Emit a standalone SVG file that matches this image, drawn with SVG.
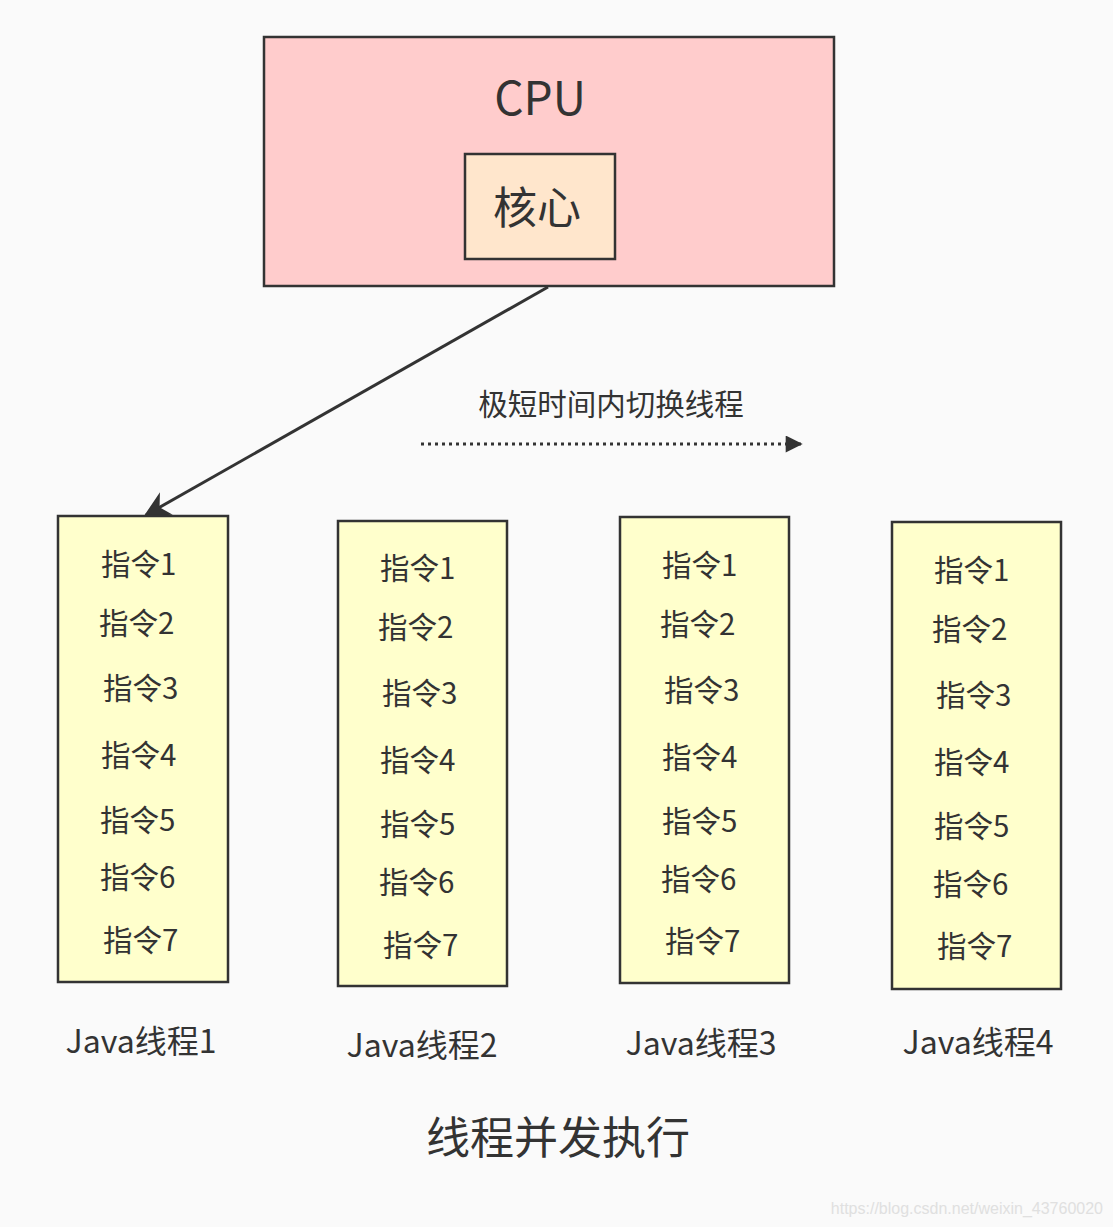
<svg xmlns="http://www.w3.org/2000/svg" width="1113" height="1227" viewBox="0 0 1113 1227">
<defs>
<style>
text{font-family:"Noto Sans CJK SC","Noto Sans",sans-serif;fill:#333}
.box{stroke:#333;stroke-width:2.5}
.thr{fill:#ffffcc}
.ins{font-size:29.5px}
.jl{font-size:32px}
</style>
<marker id="ah2" viewBox="0 0 10 10" refX="9" refY="5" markerWidth="26" markerHeight="26" markerUnits="userSpaceOnUse" orient="auto"><path d="M0,0 L10,5 L0,10 L3,5 z" fill="#333"/></marker>
<marker id="ah3" viewBox="0 0 10 10" refX="9" refY="5" markerWidth="28" markerHeight="17" markerUnits="userSpaceOnUse" orient="auto"><path d="M0,0 L10,5 L0,10 z" fill="#333"/></marker>
</defs>
<rect width="1113" height="1227" fill="#fafafa"/>
<g id="cpu">
<rect class="box" x="264" y="37" width="570" height="249" fill="#ffcccc"/>
<text x="540" y="115" font-size="46" text-anchor="middle">CPU</text>
</g>
<g id="core">
<rect class="box" x="465" y="154" width="150" height="105" fill="#ffe6cc"/>
<text x="537" y="224" font-size="44" text-anchor="middle">核心</text>
</g>
<g id="connectors">
<line x1="548" y1="287" x2="146" y2="515" stroke="#333" stroke-width="3" marker-end="url(#ah2)"/>
<line x1="421" y1="444" x2="801" y2="444" stroke="#333" stroke-width="3" stroke-dasharray="3 4" marker-end="url(#ah3)"/>
</g>
<g id="switch-label"><text x="611" y="415" font-size="29.5" text-anchor="middle">极短时间内切换线程</text></g>
<g id="thread1">
<rect class="box thr" x="58" y="516" width="170" height="466"/>
<text class="ins" x="101" y="575">指令1</text>
<text class="ins" x="99" y="634">指令2</text>
<text class="ins" x="103" y="699">指令3</text>
<text class="ins" x="101" y="766">指令4</text>
<text class="ins" x="100" y="831">指令5</text>
<text class="ins" x="100" y="888">指令6</text>
<text class="ins" x="103" y="951">指令7</text>
</g>
<g id="thread2">
<rect class="box thr" x="338" y="521" width="169" height="465"/>
<text class="ins" x="380" y="579">指令1</text>
<text class="ins" x="378" y="638">指令2</text>
<text class="ins" x="382" y="704">指令3</text>
<text class="ins" x="380" y="771">指令4</text>
<text class="ins" x="380" y="835">指令5</text>
<text class="ins" x="379" y="893">指令6</text>
<text class="ins" x="383" y="956">指令7</text>
</g>
<g id="thread3">
<rect class="box thr" x="620" y="517" width="169" height="466"/>
<text class="ins" x="662" y="576">指令1</text>
<text class="ins" x="660" y="635">指令2</text>
<text class="ins" x="664" y="701">指令3</text>
<text class="ins" x="662" y="768">指令4</text>
<text class="ins" x="662" y="832">指令5</text>
<text class="ins" x="661" y="890">指令6</text>
<text class="ins" x="665" y="952">指令7</text>
</g>
<g id="thread4">
<rect class="box thr" x="892" y="522" width="169" height="467"/>
<text class="ins" x="934" y="581">指令1</text>
<text class="ins" x="932" y="640">指令2</text>
<text class="ins" x="936" y="706">指令3</text>
<text class="ins" x="934" y="773">指令4</text>
<text class="ins" x="934" y="837">指令5</text>
<text class="ins" x="933" y="895">指令6</text>
<text class="ins" x="937" y="957">指令7</text>
</g>
<g id="labels">
<text class="jl" x="141" y="1053" text-anchor="middle">Java线程1</text>
<text class="jl" x="422" y="1057" text-anchor="middle">Java线程2</text>
<text class="jl" x="701" y="1055" text-anchor="middle">Java线程3</text>
<text class="jl" x="978" y="1054" text-anchor="middle">Java线程4</text>
<text x="558" y="1154" font-size="44" text-anchor="middle">线程并发执行</text>
<text x="1103" y="1214" font-size="16" text-anchor="end" style="fill:#e0e0e0;font-family:'Liberation Sans',sans-serif">https://blog.csdn.net/weixin_43760020</text>
</g>
</svg>
